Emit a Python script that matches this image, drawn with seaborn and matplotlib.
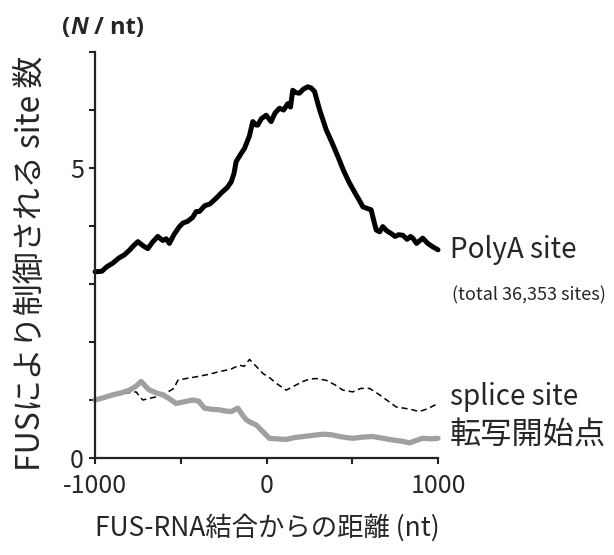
import numpy as np
import pandas as pd
import matplotlib
matplotlib.use("Agg")
import matplotlib.pyplot as plt
import seaborn as sns

# ---- data ----
polya_x = [-1000, -960, -930, -896, -860, -830, -800, -775, -750, -720, -692, -665, -634, -605,
           -585, -566, -540, -510, -488, -460, -430, -410, -391, -360, -330, -293, -260, -230,
           -206, -190, -177, -150, -128, -100, -80, -60, -51, -30, -2, 27, 50, 76, 100, 124,
           140, 153, 170, 192, 215, 241, 260, 280, 310, 348, 380, 416, 450, 484, 520, 540,
           562, 590, 610, 625, 640, 660, 678, 700, 727, 750, 770, 795, 820, 840, 853, 875,
           895, 911, 940, 970, 1000]
polya_y = [3.21, 3.22, 3.30, 3.36, 3.45, 3.50, 3.58, 3.66, 3.73, 3.66, 3.61, 3.72, 3.82, 3.75,
           3.78, 3.70, 3.85, 3.98, 4.05, 4.08, 4.15, 4.25, 4.25, 4.35, 4.38, 4.48, 4.58, 4.66,
           4.76, 4.90, 5.11, 5.24, 5.34, 5.55, 5.80, 5.74, 5.74, 5.85, 5.91, 5.80, 5.95, 6.03,
           6.00, 6.11, 6.05, 6.34, 6.30, 6.29, 6.36, 6.40, 6.38, 6.32, 6.00, 5.66, 5.45, 5.20,
           4.95, 4.74, 4.55, 4.45, 4.33, 4.30, 4.28, 4.10, 3.93, 3.90, 3.99, 3.92, 3.87, 3.82,
           3.85, 3.84, 3.77, 3.82, 3.79, 3.70, 3.75, 3.79, 3.70, 3.64, 3.59]

splice_x = [-1000, -940, -880, -820, -760, -740, -721, -680, -650, -585, -540, -517, -470, -410,
            -340, -274, -210, -157, -130, -99, -60, -22, 20, 56, 90, 115, 160, 212, 250, 290,
            348, 400, 445, 503, 550, 601, 659, 710, 756, 800, 853, 890, 921, 960, 1000]
splice_y = [1.03, 1.05, 1.08, 1.12, 1.14, 1.06, 1.00, 1.03, 1.05, 1.12, 1.20, 1.34, 1.37, 1.40,
            1.44, 1.49, 1.53, 1.60, 1.58, 1.70, 1.58, 1.46, 1.38, 1.29, 1.22, 1.17, 1.24, 1.32,
            1.36, 1.37, 1.34, 1.26, 1.17, 1.14, 1.20, 1.20, 1.09, 0.98, 0.88, 0.86, 0.83, 0.80,
            0.83, 0.88, 0.94]

tss_x = [-1000, -950, -896, -850, -799, -760, -731, -700, -682, -640, -605, -565, -527, -480,
         -430, -395, -362, -320, -274, -240, -206, -167, -140, -118, -90, -60, -20, 17, 60, 115,
         160, 212, 270, 328, 380, 426, 470, 503, 560, 620, 680, 736, 790, 834, 870, 911, 960, 1000]
tss_y = [1.00, 1.04, 1.09, 1.12, 1.17, 1.24, 1.32, 1.22, 1.17, 1.12, 1.09, 1.02, 0.94, 0.97,
         1.00, 0.98, 0.86, 0.84, 0.83, 0.81, 0.80, 0.86, 0.74, 0.66, 0.61, 0.57, 0.45, 0.34,
         0.33, 0.32, 0.35, 0.37, 0.39, 0.41, 0.40, 0.37, 0.35, 0.34, 0.36, 0.37, 0.34, 0.31,
         0.29, 0.26, 0.30, 0.34, 0.33, 0.34]

xticks = [-1000, -500, 0, 500, 1000]
xticklabels = ["-1000", "", "0", "", "1000"]
yticks = [0, 1, 2, 3, 4, 5, 6, 7]
yticklabels = ["0", "", "", "", "", "5", "", ""]

# ---- style ----
sns.set_style("ticks")
plt.rcParams['font.family'] = ['Noto Sans CJK JP', 'DejaVu Sans']

W, H = 614, 555
fig = plt.figure(figsize=(W / 100, H / 100), dpi=100)
ax = fig.add_axes([95 / W, 1 - 458 / H, (438 - 95) / W, (458 - 52) / H])

sns.lineplot(x=polya_x, y=polya_y, ax=ax, color="black", lw=3.6, clip_on=False)
sns.lineplot(x=splice_x, y=splice_y, ax=ax, color="black", lw=1.1, ls=(0, (4, 2.5)), clip_on=False)
sns.lineplot(x=tss_x, y=tss_y, ax=ax, color="#a0a0a0", lw=3.8, clip_on=False)

ax.set_xlim(-1000, 1000)
ax.set_ylim(0, 7)
ax.set_xticks(xticks)
ax.set_xticklabels(xticklabels)
ax.set_yticks(yticks)
ax.set_yticklabels(yticklabels)
ax.tick_params(axis='both', labelsize=18, length=4, width=1.5, color="#222222")
ax.tick_params(axis='x', pad=7)
ax.tick_params(axis='y', pad=4)
for s in ["top", "right"]:
    ax.spines[s].set_visible(False)
for s in ["left", "bottom"]:
    ax.spines[s].set_linewidth(1.6)
    ax.spines[s].set_color("#222222")

ax.set_xlabel("")
ax.set_ylabel("")
fig.text(267 / W, 1 - 528 / H, "FUS-RNA結合からの距離 (nt)", fontsize=19, ha="center", va="center")
fig.text(31 / W, 1 - 263 / H, "FUSにより制御される site 数", fontsize=23, rotation=90,
         ha="center", va="center")

# right-side labels
fig.text(450 / W, 1 - 250 / H, "PolyA site", fontsize=20, va="center", ha="left")
fig.text(452 / W, 1 - 295 / H, "(total 36,353 sites)", fontsize=13, va="center", ha="left")
fig.text(450 / W, 1 - 397 / H, "splice site", fontsize=20, va="center", ha="left")
fig.text(450 / W, 1 - 436 / H, "転写開始点", fontsize=22.5, va="center", ha="left")

# unit label (N / nt) with italic N
fig.canvas.draw()
r = fig.canvas.get_renderer()
x0, yc = 62, 28
fam = ["Open Sans", "DejaVu Sans"]
t1 = fig.text(x0 / W, 1 - yc / H, "(", fontsize=17, fontweight="bold", family=fam, va="center", ha="left")
w1 = t1.get_window_extent(r).width
t2 = fig.text((x0 + w1) / W, 1 - yc / H, "N", fontsize=17, fontweight="bold", fontstyle="italic",
              family=fam, va="center", ha="left")
w2 = t2.get_window_extent(r).width
fig.text((x0 + w1 + w2) / W, 1 - yc / H, " / nt)", fontsize=17, fontweight="bold", family=fam,
         va="center", ha="left")

fig.savefig("out.png", dpi=100)
